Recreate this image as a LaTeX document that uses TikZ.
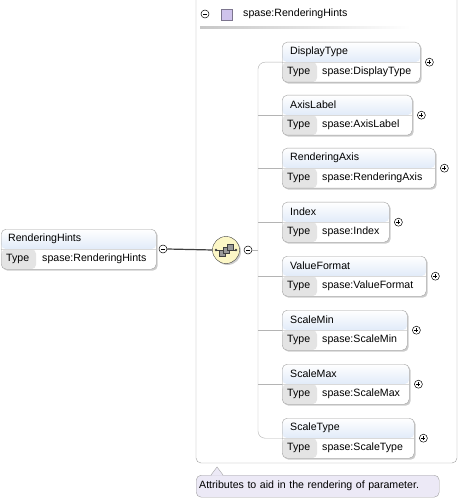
\documentclass[tikz,border=0pt]{standalone}
\usepackage{fontspec}
\setmainfont{Liberation Sans}
\usetikzlibrary{shadows}
\usetikzlibrary{calc}

\definecolor{headblue}{HTML}{C3D6F2}
\definecolor{framegray}{HTML}{A0A0A0}
\definecolor{typegray}{HTML}{E4E4E4}
\definecolor{seqyellow}{HTML}{FCF7C6}
\definecolor{notelilac}{HTML}{ECE9F6}
\definecolor{treegray}{HTML}{B4B4B4}
\definecolor{sqlilac}{HTML}{CFC3EC}

\begin{document}
\begin{tikzpicture}[x=1pt,y=-1pt,font=\fontsize{10.6}{12}\selectfont,
  elem/.style={rectangle,draw=framegray,fill=white,rounded corners=5pt,minimum height=40pt,inner sep=0,anchor=north west,
    drop shadow={shadow xshift=1.5pt,shadow yshift=-1.5pt,opacity=.4},
    path picture={
      \shade[top color=white,bottom color=headblue] (path picture bounding box.north west) rectangle ([yshift=20pt]path picture bounding box.south east);
      \fill[typegray] ([yshift=20pt]path picture bounding box.south west) rectangle ([xshift=35pt]path picture bounding box.south west);
      \draw[white!85!black] ([yshift=20pt]path picture bounding box.south west) -- ([yshift=20pt]path picture bounding box.south east);}},
  btn/.style={circle,draw=black,fill=white,minimum size=8pt,inner sep=0,line width=.5pt},
  minusbtn/.style={btn,path picture={\draw ([xshift=-2pt]path picture bounding box.center) -- ([xshift=2pt]path picture bounding box.center);}},
  plusbtn/.style={btn,path picture={\draw ([xshift=-2pt]path picture bounding box.center) -- ([xshift=2pt]path picture bounding box.center);
      \draw ([yshift=-2pt]path picture bounding box.center) -- ([yshift=2pt]path picture bounding box.center);}},
  lbl/.style={anchor=west,inner sep=0}]

  \useasboundingbox (0,0) rectangle (459,502);

  % type container
  \draw[framegray,rounded corners=5pt,fill=white] (196,-6) rectangle (457,463);
  \node[minusbtn] (typem) at (205,14) {};
  \node[draw=sqlilac!60!black,fill=sqlilac,minimum size=11pt,inner sep=0] (typesq) at (227,15) {};
  \node[lbl] (typename) at (243,14) {spase:RenderingHints};
  \shade[left color=black!22,right color=white] (200,27) rectangle (410,29);

  % root element
  \node[elem,minimum width=155pt] (root) at (1,229) {};
  \node[lbl] at ($(root.north west)+(7,10)$) {RenderingHints};
  \node[lbl] at ($(root.north west)+(5,30)$) {Type};
  \node[lbl] at ($(root.north west)+(41,30)$) {spase:RenderingHints};
  \node[minusbtn] (rootm) at (163,249) {};

  % sequence
  \node[circle,draw=black!75,fill=seqyellow,minimum size=27pt,inner sep=0,
    drop shadow={shadow xshift=1.5pt,shadow yshift=-1.5pt,opacity=.4}] (seq) at (226,250) {};
  \draw[black!75] ($(seq.center)+(-10,0)$) -- ($(seq.center)+(10,0)$);
  \fill[black!75] ($(seq.center)+(-10,0)$) circle (1.3) ($(seq.center)+(10,0)$) circle (1.3);
  \foreach \dx in {-4,0,4}
    \draw[black!75,fill=black!40] ($(seq.center)+(\dx-3,-\dx*0.7-3)$) rectangle ++(6,6);
  \node[minusbtn] (seqm) at (248,250) {};
  \draw[black!75,line width=1.2pt] (rootm.east) -- (seq.west);
  \coordinate (spine) at (258,250);
  \draw[treegray] (seqm.east) -- (spine);

  % children
  \foreach \nm/\ty/\bw [count=\i] in {DisplayType/42/138,AxisLabel/95/130,RenderingAxis/148/153,Index/202/107,
      ValueFormat/256/144,ScaleMin/310/125,ScaleMax/364/127,ScaleType/418/132} {
    \node[elem,minimum width=\bw pt] (e\i) at (282,\ty) {};
    \node[lbl] at ($(e\i.north west)+(8,10)$) {\nm};
    \node[lbl] at ($(e\i.north west)+(5,30)$) {Type};
    \node[lbl] at ($(e\i.north west)+(40,30)$) {spase:\nm};
    \node[plusbtn] (p\i) at ($(e\i.east)+(9,0)$) {};
  }
  \draw[treegray,rounded corners=7pt] (e1.west) -- (e1.west -| spine) -- (e8.west -| spine) -- (e8.west);
  \foreach \i in {2,...,7}
    \draw[treegray] (e\i.west -| spine) -- (e\i.west);

  % annotation
  \node[draw=framegray,fill=notelilac,rounded corners=5pt,anchor=north west,text width=237pt,
    minimum height=22pt,inner xsep=3pt,align=left] (note) at (196,475) {Attributes to aid in the rendering of parameter.};
  \draw[framegray,fill=notelilac] ([xshift=15pt]note.north west) -- ++(6,-8) -- ++(6,8);
  \fill[notelilac] ([xshift=15.6pt,yshift=-0.5pt]note.north west) -- ++(5.4,-7.2) -- ++(5.4,7.2) -- cycle;
\end{tikzpicture}
\end{document}
